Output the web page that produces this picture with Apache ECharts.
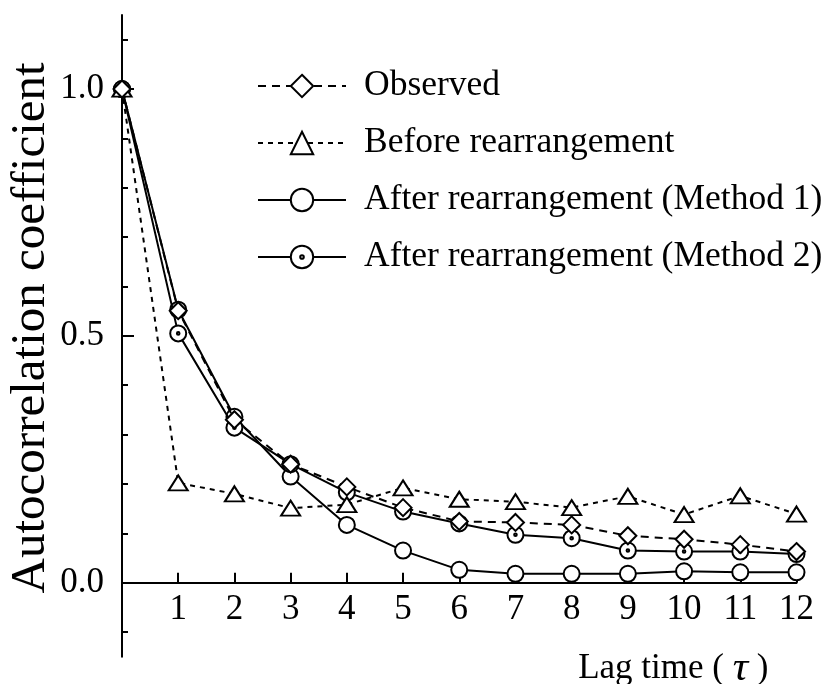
<!DOCTYPE html>
<html>
<head>
<meta charset="utf-8">
<script src="https://cdn.jsdelivr.net/npm/echarts@6/dist/echarts.min.js"></script>
<style>
html,body{margin:0;padding:0;background:#fff;}
#chart{width:826px;height:684px;}
</style>
</head>
<body>
<div id="chart"></div>
<script>
// ---- data ----
const lags = [0,1,2,3,4,5,6,7,8,9,10,11,12];
const xTickLabels = [1,2,3,4,5,6,7,8,9,10,11,12];
const yTickLabels = [0, 0.5, 1.0];
const yMinorTicks = [-0.1,0.1,0.2,0.3,0.4,0.6,0.7,0.8,0.9,1.1];
const seriesNames = ['Observed','Before rearrangement','After rearrangement (Method 1)','After rearrangement (Method 2)'];
const observed = [1.0,0.551,0.330,0.240,0.194,0.152,0.124,0.122,0.117,0.095,0.088,0.077,0.063];
const beforeRe = [1.0,0.202,0.180,0.151,0.158,0.192,0.169,0.164,0.152,0.175,0.138,0.176,0.139];
const method1  = [1.0,0.553,0.336,0.215,0.117,0.065,0.026,0.018,0.018,0.018,0.023,0.021,0.021];
const method2  = [1.0,0.505,0.314,0.240,0.183,0.144,0.120,0.097,0.090,0.065,0.063,0.063,0.058];

const FONT = '"Liberation Serif", "Times New Roman", serif';
const pair = arr => lags.map((l,i)=>[l,arr[i]]);
const dotCircle = 'path://M0,-8 A8,8 0 1,1 0,8 A8,8 0 1,1 0,-8 Z M0,-1.3 A1.3,1.3 0 1,1 0,1.3 A1.3,1.3 0 1,1 0,-1.3 Z';

const chart = echarts.init(document.getElementById('chart'), null, {renderer:'canvas'});
const baseItem = {color:'#fff', borderColor:'#000', borderWidth:2};
chart.setOption({
  backgroundColor:'#fff',
  animation:false,
  grid:{left:122, right:29.5, top:15, bottom:27.3, containLabel:false, outerBoundsMode:'none'},
  legend:{
    orient:'vertical', left:252, top:63,
    itemWidth:88, itemHeight:28, itemGap:21,
    data:seriesNames,
    selectedMode:false,
    textStyle:{fontFamily:FONT, fontSize:35.5, color:'#000', lineHeight:28, padding:[0,0,0,13]}
  },
  xAxis:{
    type:'value', min:0, max:12,
    offset:-74,
    axisLine:{show:true, onZero:false, lineStyle:{color:'#000', width:2}},
    axisTick:{show:true, inside:true, length:10, lineStyle:{color:'#000', width:2}, customValues:xTickLabels},
    axisLabel:{show:true, customValues:xTickLabels, margin:10, fontFamily:FONT, fontSize:35, color:'#000'},
    splitLine:{show:false},
    name:'Lag time ( {t|τ} )',
    nameLocation:'end', nameGap:-28, nameMoveOverlap:false,
    nameTextStyle:{fontFamily:FONT, fontSize:35, color:'#000', align:'right', verticalAlign:'top', padding:[65,0,0,0],
      rich:{t:{fontFamily:FONT, fontSize:43, fontStyle:'italic', color:'#000'}}}
  },
  yAxis:[{
    type:'value', min:-0.15, max:1.15,
    axisLine:{show:true, onZero:false, lineStyle:{color:'#000', width:2}},
    axisTick:{show:true, inside:true, length:12, lineStyle:{color:'#000', width:2}, customValues:yTickLabels},
    axisLabel:{show:true, customValues:yTickLabels, margin:18, fontFamily:FONT, fontSize:35, color:'#000',
      formatter:v=>Number(v).toFixed(1)},
    splitLine:{show:false},
    name:'Autocorrelation coefficient',
    nameLocation:'middle', nameRotate:90, nameGap:66, nameMoveOverlap:false,
    nameTextStyle:{fontFamily:FONT, fontSize:49, color:'#000', padding:[0,0,0,16]}
  },{
    type:'value', min:-0.15, max:1.15, position:'left',
    axisLine:{show:false},
    axisTick:{show:true, inside:true, length:6, lineStyle:{color:'#000', width:2}, customValues:yMinorTicks},
    axisLabel:{show:false},
    splitLine:{show:false}
  }],
  series:[
    {name:seriesNames[2], type:'line', data:pair(method1), symbol:'circle', symbolSize:16,
      lineStyle:{color:'#000', width:2, type:'solid'}, itemStyle:baseItem, z:2},
    {name:seriesNames[3], type:'line', data:pair(method2), symbol:dotCircle, symbolSize:16,
      lineStyle:{color:'#000', width:2, type:'solid'}, itemStyle:baseItem, z:3},
    {name:seriesNames[1], type:'line', data:pair(beforeRe), symbol:'triangle', symbolSize:[19,15],
      lineStyle:{color:'#000', width:2, type:[5,5]}, itemStyle:baseItem, z:4},
    {name:seriesNames[0], type:'line', data:pair(observed), symbol:'diamond', symbolSize:[17,17],
      lineStyle:{color:'#000', width:2, type:[8,6]}, itemStyle:baseItem, z:5}
  ]
});
</script>
</body>
</html>
